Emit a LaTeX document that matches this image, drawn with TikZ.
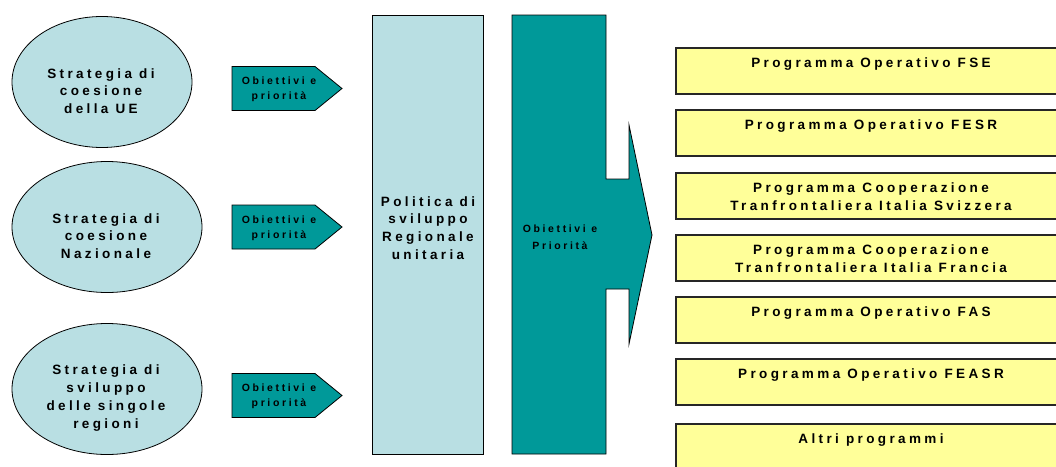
\documentclass[tikz,border=0pt]{standalone}
\usepackage{fontspec}
\setmainfont{Liberation Sans}
\newfontfamily\spaced[LetterSpace=25]{Liberation Sans}
\usetikzlibrary{calc,shapes.geometric}
\definecolor{celeste}{RGB}{185,223,227}
\definecolor{petrolio}{RGB}{0,153,153}
\definecolor{giallo}{RGB}{255,255,153}
\tikzset{
  testo/.style={font=\spaced\bfseries\fontsize{13.5}{17.7}\selectfont,align=center,inner sep=0pt},
  piccolo/.style={font=\spaced\bfseries\fontsize{10.5}{15}\selectfont,align=center,inner sep=0pt},
  strategia/.style={ellipse,draw=black,line width=.8pt,fill=celeste,minimum height=131pt,inner sep=0pt},
  freccia/.style={draw=black,line width=.8pt,fill=petrolio},
  politica/.style={draw=black,line width=1pt,fill=celeste},
  programma/.style={draw=black!85,line width=1.6pt,fill=giallo}
}
\begin{document}
\begin{tikzpicture}[x=1pt,y=-1pt]
  \useasboundingbox (0,0) rectangle (1056,466);
  % strategie
  \foreach \n/\cx/\cy/\w/\txt in {%
    1/102/82/180/{Strategia di\\coesione\\della UE},
    2/107/227/190/{Strategia di\\coesione\\Nazionale},
    3/107/389/190/{Strategia di\\sviluppo\\delle singole\\regioni}}{%
      \node[strategia,minimum width=\w pt] (s\n) at (\cx,\cy) {};
      \node[testo] (ts\n) at ($(s\n.center)+(-1,9)$) {\txt};
    }
  % frecce piccole
  \foreach \n/\cy in {1/88.5,2/227,3/395.5}{%
    \begin{scope}[shift={(0,\cy)}]
      \draw[freccia] (232,-22)--(315,-22)--(342,0)--(315,22)--(232,22)--cycle;
      \node[piccolo] (o\n) at (279,1) {Obiettivi e\\priorità};
    \end{scope}
  }
  % politica unitaria
  \draw[politica] (372,15) rectangle (483,454);
  \node[testo] (pol) at (428,228) {Politica di\\sviluppo\\Regionale\\unitaria};
  % freccia grande
  \draw[freccia] (512,15)--(606,15)--(606,179)--(629,179)--(629,125)--(652,235)
    --(629,344)--(629,289)--(606,289)--(606,454)--(512,454)--cycle;
  \node[piccolo,font=\spaced\bfseries\fontsize{10.5}{17.4}\selectfont] (ob) at (560,237) {Obiettivi e\\Priorità};
  % programmi
  \foreach \n/\yt/\txt in {%
    1/48/{Programma Operativo FSE},
    2/110/{Programma Operativo FESR},
    3/173/{Programma Cooperazione\\Tranfrontaliera Italia Svizzera},
    4/235/{Programma Cooperazione\\Tranfrontaliera Italia Francia},
    5/297/{Programma Operativo FAS},
    6/359/{Programma Operativo FEASR},
    7/424/{Altri programmi}}{%
      \draw[programma] (676,\yt) rectangle ++(388,46);
      \node[testo,anchor=north] (p\n) at (871,\yt+10) {\txt};
    }
\end{tikzpicture}
\end{document}
